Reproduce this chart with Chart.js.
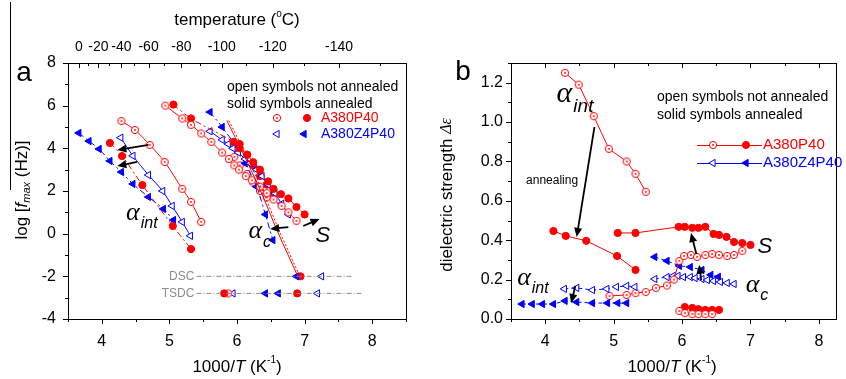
<!DOCTYPE html>
<html>
<head>
<meta charset="utf-8">
<script src="https://cdn.jsdelivr.net/npm/chart.js@4.4.0/dist/chart.umd.min.js"></script>
<style>
  body { margin: 0; background: #fff; }
  #wrap { position: relative; width: 846px; height: 379px; }
  #chartA { position: absolute; left: 0; top: 0; }
  #chartB { position: absolute; left: 420px; top: 0; }
</style>
</head>
<body>
<div id="wrap">
  <canvas id="chartA" width="420" height="379"></canvas>
  <canvas id="chartB" width="426" height="379"></canvas>
</div>
<script>
// --- data (x = 1000/T in K^-1) ---
// alpha_int, A380P40
const redOpenIntX = [4.29, 4.49, 4.71, 4.93, 5.19, 5.32, 5.47];
const redOpenIntLogF = [5.28, 4.86, 4.16, 3.36, 2.10, 1.49, 0.55];
const redOpenIntDe = [1.25, 1.19, 1.03, 0.864, 0.80, 0.737, 0.646];
const redSolidIntX = [4.12, 4.30, 4.60, 5.05, 5.32];
const redSolidIntLogF = [4.25, 3.64, 2.28, 0.36, -0.72];
const redSolidIntDe = [0.447, 0.422, 0.397, 0.32, 0.249];
// alpha_int, A380Z4P40
const blueOpenIntX = [4.28, 4.46, 4.69, 4.90, 5.04, 5.19, 5.31];
const blueOpenIntLogF = [4.5, 3.65, 2.75, 2.0, 1.3, 0.55, -0.1];
const blueOpenIntDe = [0.153, 0.158, 0.147, 0.153, 0.163, 0.168, 0.163];
const blueSolidIntX = [3.66, 3.81, 3.96, 4.12, 4.29, 4.46, 4.69, 4.91, 5.06, 5.19];
const blueSolidIntLogF = [4.72, 4.34, 3.97, 3.41, 2.89, 2.33, 1.72, 1.16, 0.64, null];
const blueSolidIntDe = [0.076, 0.076, 0.076, 0.076, 0.092, 0.086, 0.081, 0.081, 0.081, 0.081];
// S, A380P40
const redOpenSX = [4.94, 5.19, 5.32, 5.47, 5.62, 5.78, 5.88, 5.96, 6.03, 6.13, 6.22, 6.34, 6.44, 6.54, 6.66, 6.76, 6.88];
const redOpenSLogF = [6.0, 5.4, 5.1, 4.7, 4.3, 3.8, 3.5, 3.2, 3.0, 2.7, 2.5, 2.2, 1.9, 1.6, 1.3, 1.0, 0.6];
const redOpenSDe = [0.117, 0.122, 0.132, 0.137, 0.158, 0.17, 0.2, 0.295, 0.32, 0.325, 0.315, 0.325, 0.33, 0.325, 0.32, 0.325, 0.346];
const redSolidSX = [5.06, 5.32, 5.95, 6.04, 6.15, 6.24, 6.34, 6.46, 6.54, 6.65, 6.76, 6.88, 7.0];
const redSolidSLogF = [6.05, 5.4, 4.3, 4.0, 3.7, 3.35, 3.0, 2.45, 2.1, 1.85, 1.65, 1.25, 0.9];
const redSolidSDe = [0.437, 0.437, 0.468, 0.468, 0.463, 0.463, 0.468, 0.432, 0.427, 0.417, 0.391, 0.386, 0.376];
// alpha_c, A380P40
const redOpenCX = [5.96, 6.04, 6.15, 6.24, 6.34, 6.44];
const redOpenCLogF = [3.6, 3.2, 2.8, 2.4, 2.0, 1.7];
const redOpenCDe = [0.041, 0.03, 0.025, 0.025, 0.025, 0.025];
const redSolidCX = [6.04, 6.15, 6.24, 6.34, 6.44, 6.54];
const redSolidCLogF = [4.2, 3.7, 3.2, 2.7, 2.3, 1.9];
const redSolidCDe = [0.061, 0.056, 0.05, 0.046, 0.046, 0.046];
// alpha_c, A380Z4P40
const blueOpenCX = [5.6, 5.78, 5.87, 5.94, 6.02, 6.12, 6.19, 6.29, 6.37, 6.46, 6.56, 6.66, 6.76];
const blueOpenCLogF = [4.8, 4.4, 4.2, 4.0, 3.8, 3.5, 3.3, 3.0, 2.7, 2.3, 1.9, 1.4, 0.9];
const blueOpenCDe = [0.203, 0.213, 0.219, 0.219, 0.213, 0.213, 0.208, 0.203, 0.198, 0.193, 0.188, 0.183, 0.178];
const blueSolidCX = [5.6, 5.78, 5.96, 6.12, 6.29, 6.42, 6.53];
const blueSolidCLogF = [5.7, 5.0, 4.2, 3.3, 2.2, 0.9, -0.3];
const blueSolidCDe = [0.315, 0.295, 0.27, 0.264, 0.249, 0.224, 0.214];
// VFT fit of alpha_c (A380P40) down to the DSC Tg
const redFitX = [5.85, 6.1, 6.35, 6.6, 6.9];
const redFitLogF = [5.3, 3.7, 2.0, 0.1, -2.0];
// DSC and TSDC glass transitions
const dscY = -2.0, tsdcY = -2.8;
const dscRedSolidX = [6.94], dscBlueSolidX = [6.88], dscBlueOpenX = [7.25];
const tsdcRedSolidX = [5.81, 6.89], tsdcRedOpenX = [5.87];
const tsdcBlueOpenX = [5.94, 7.19], tsdcBlueSolidX = [6.42, 6.61];
const dscLineX = [5.4, 7.72], tsdcLineX = [5.4, 7.84];
// axis ticks
const tempTicksC = [0, -10, -20, -30, -40, -50, -60, -70, -80, -90, -100, -110, -120, -130, -140, -150];
const xTicksB = [3.5, 4, 4.5, 5, 5.5, 6, 6.5, 7, 7.5, 8];

const F = '"Liberation Sans", Arial, Helvetica, sans-serif';
const SERIF = '"Liberation Serif", "Times New Roman", serif';
const RED = '#ff0000', BLUE = '#0000ff', GREY = '#8c8c8c';

function ringDot(color) {
  const c = document.createElement('canvas');
  c.width = 10; c.height = 10;
  const g = c.getContext('2d');
  g.fillStyle = '#fff';
  g.beginPath(); g.arc(5, 5, 3.6, 0, 2 * Math.PI); g.fill();
  g.strokeStyle = color; g.lineWidth = 1; g.stroke();
  g.fillStyle = color;
  g.beginPath(); g.arc(5, 5, 0.9, 0, 2 * Math.PI); g.fill();
  return c;
}
const RING = ringDot(RED);

const pts = (xs, ys) => xs.map((x, i) => ({ x, y: Array.isArray(ys) ? ys[i] : ys })).filter(p => p.y != null);

function series(xs, ys, kind, dash, line = true) {
  const red = kind.startsWith('red');
  const open = kind.endsWith('Open');
  const col = red ? RED : BLUE;
  return {
    data: pts(xs, ys),
    showLine: line,
    borderColor: col,
    borderWidth: 1,
    borderDash: dash || [],
    tension: 0.3,
    pointStyle: red ? (open ? RING : 'circle') : 'triangle',
    rotation: red ? 0 : -90,
    pointRadius: red ? 3.6 : 4.2,
    pointBackgroundColor: open ? '#fff' : col,
    pointBorderColor: col,
    pointBorderWidth: 1
  };
}
function plainLine(xs, ys, color, dash) {
  return { data: pts(xs, ys), showLine: true, borderColor: color, borderWidth: 1, borderDash: dash || [], pointRadius: 0, tension: 0.3 };
}

const DASHDOT = [6, 3, 2, 3];

// --- drawing helpers ---
function rich(ctx, x, y, parts, align) {
  let w = 0;
  parts.forEach(p => { ctx.font = p.f; p.w = ctx.measureText(p.t).width; w += p.w; });
  let cx = align === 'center' ? x - w / 2 : align === 'right' ? x - w : x;
  ctx.textAlign = 'left';
  ctx.textBaseline = 'middle';
  parts.forEach(p => {
    ctx.font = p.f;
    ctx.fillStyle = p.c || '#000';
    ctx.fillText(p.t, cx, y + (p.dy || 0));
    cx += p.w;
  });
}
function arrow(ctx, x1, y1, x2, y2) {
  const a = Math.atan2(y2 - y1, x2 - x1), L = 9, W = 4;
  ctx.save();
  ctx.strokeStyle = '#000'; ctx.fillStyle = '#000'; ctx.lineWidth = 1.8;
  ctx.beginPath(); ctx.moveTo(x1, y1);
  ctx.lineTo(x2 - L * 0.8 * Math.cos(a), y2 - L * 0.8 * Math.sin(a)); ctx.stroke();
  ctx.beginPath(); ctx.moveTo(x2, y2);
  ctx.lineTo(x2 - L * Math.cos(a) + W * Math.sin(a), y2 - L * Math.sin(a) - W * Math.cos(a));
  ctx.lineTo(x2 - L * Math.cos(a) - W * Math.sin(a), y2 - L * Math.sin(a) + W * Math.cos(a));
  ctx.closePath(); ctx.fill();
  ctx.restore();
}
function alphaLabel(ctx, x, y, sub, size) {
  ctx.fillStyle = '#000';
  ctx.font = 'italic ' + size + 'px ' + SERIF;
  ctx.textAlign = 'center'; ctx.textBaseline = 'middle';
  ctx.fillText('\u03b1', x, y);
  ctx.font = 'italic ' + Math.round(size * 0.62) + 'px ' + F;
  ctx.textAlign = 'left';
  ctx.fillText(sub, x + size * 0.3, y + size * 0.42);
}
function drawTicks(ctx, scale, area, side, list, inward) {
  ctx.save();
  ctx.strokeStyle = '#000'; ctx.lineWidth = 1;
  ctx.beginPath();
  list.forEach(t => {
    const len = t.major ? 5 : 3;
    const p = Math.round(scale.getPixelForValue(t.v)) + 0.5;
    if (side === 'bottom') { ctx.moveTo(p, area.bottom); ctx.lineTo(p, area.bottom + len); }
    if (side === 'top') { ctx.moveTo(p, area.top); ctx.lineTo(p, area.top + (inward ? len : -len)); }
    if (side === 'left') { ctx.moveTo(area.left, p); ctx.lineTo(area.left - len, p); }
  });
  ctx.stroke();
  ctx.restore();
}
function frame(ctx, a) {
  ctx.save();
  ctx.strokeStyle = '#000'; ctx.lineWidth = 1;
  ctx.strokeRect(Math.round(a.left) + 0.5, Math.round(a.top) + 0.5, Math.round(a.right - a.left), Math.round(a.bottom - a.top));
  ctx.restore();
}
function legendPoint(ctx, style, col, open, x, y) {
  ctx.save();
  ctx.strokeStyle = col; ctx.fillStyle = open ? '#fff' : col; ctx.lineWidth = 1;
  if (style === 'ring') { ctx.drawImage(RING, x - 5, y - 5); }
  else Chart.helpers.drawPoint(ctx, { pointStyle: style, radius: style === 'triangle' ? 4.2 : 3.6, rotation: style === 'triangle' ? -90 : 0, borderWidth: 1 }, x, y);
  ctx.restore();
}
const halfSteps = (a, b) => { const r = []; for (let v = a; v <= b + 1e-9; v += 0.5) r.push({ v, major: Math.abs(v - Math.round(v)) < 1e-9 }); return r; };

// --- panel a ---
const annotA = {
  id: 'annotA',
  afterDraw(chart) {
    const { ctx, chartArea: a, scales } = chart;
    const X = v => scales.x.getPixelForValue(v), Y = v => scales.y.getPixelForValue(v);
    frame(ctx, a);
    drawTicks(ctx, scales.x, a, 'bottom', halfSteps(3.5, 8.5));
    const yt = []; for (let v = -4; v <= 8; v++) yt.push({ v, major: v % 2 === 0 });
    drawTicks(ctx, scales.y, a, 'left', yt);
    drawTicks(ctx, scales.x2, a, 'top', tempTicksC.map(t => ({ v: 1000 / (t + 273.15), major: t % 20 === 0 })), true);

    ctx.save();
    ctx.fillStyle = '#000'; ctx.textAlign = 'center'; ctx.textBaseline = 'middle';
    ctx.font = '28px ' + F; ctx.fillText('a', 24, 73);
    rich(ctx, 237, 20, [{ t: 'temperature (', f: '17px ' + F }, { t: 'o', f: '10px ' + F, dy: -6 }, { t: 'C)', f: '17px ' + F }], 'center');
    rich(ctx, 237, 367, [{ t: '1000/', f: '17px ' + F }, { t: 'T', f: 'italic 17px ' + F }, { t: ' (K', f: '17px ' + F }, { t: '-1', f: '10px ' + F, dy: -7 }, { t: ')', f: '17px ' + F }], 'center');
    ctx.save();
    ctx.translate(22, 190); ctx.rotate(-Math.PI / 2);
    rich(ctx, 0, 0, [{ t: 'log [', f: '17px ' + F }, { t: 'f', f: 'italic 17px ' + F }, { t: 'max', f: 'italic 11px ' + F, dy: 5 }, { t: ' (Hz)]', f: '17px ' + F }], 'center');
    ctx.restore();
    ctx.strokeStyle = '#000'; ctx.lineWidth = 1;
    ctx.beginPath(); ctx.moveTo(10.5, 2); ctx.lineTo(10.5, 190); ctx.stroke();

    ctx.fillStyle = '#000'; ctx.font = '14px ' + F; ctx.textAlign = 'left';
    ctx.fillText('open symbols not annealed', 227, 87);
    ctx.fillText('solid symbols annealed', 227, 104);
    legendPoint(ctx, 'ring', RED, true, 277, 118);
    legendPoint(ctx, 'circle', RED, false, 307, 118);
    legendPoint(ctx, 'triangle', BLUE, true, 277, 134);
    legendPoint(ctx, 'triangle', BLUE, false, 304, 134);
    ctx.font = '14px ' + F; ctx.textAlign = 'left'; ctx.textBaseline = 'middle';
    ctx.fillStyle = RED; ctx.fillText('A380P40', 321, 118);
    ctx.fillStyle = BLUE; ctx.fillText('A380Z4P40', 321, 134);

    ctx.fillStyle = GREY; ctx.font = '12px ' + F; ctx.textAlign = 'right';
    ctx.fillText('DSC', X(5.4) - 2, Y(dscY));
    ctx.fillText('TSDC', X(5.4) - 2, Y(tsdcY));

    alphaLabel(ctx, X(4.46), Y(0.97), 'int', 26);
    alphaLabel(ctx, X(6.27), Y(0.1), 'c', 26);
    ctx.fillStyle = '#000'; ctx.font = 'italic 22px ' + F; ctx.textAlign = 'center';
    ctx.fillText('S', X(7.27), Y(-0.1));

    arrow(ctx, X(4.69), Y(4.16), X(4.23), Y(3.92));
    arrow(ctx, X(4.52), Y(3.36), X(4.23), Y(3.17));
    arrow(ctx, X(6.76), Y(0.31), X(6.49), Y(0.22));
    arrow(ctx, X(6.98), Y(0.36), X(7.22), Y(0.69));
    ctx.restore();
  }
};

new Chart(document.getElementById('chartA'), {
  type: 'scatter',
  data: {
    datasets: [
      plainLine(dscLineX, dscY, GREY, [5, 2, 1, 2]),
      plainLine(tsdcLineX, tsdcY, GREY, [5, 2, 1, 2]),
      plainLine(redFitX, redFitLogF, RED),
      plainLine(redFitX.map(v => v + 0.03), redFitLogF, RED, [2, 2]),
      series(redOpenIntX, redOpenIntLogF, 'redOpen'),
      series(redSolidIntX, redSolidIntLogF, 'redSolid', DASHDOT),
      series(blueOpenIntX, blueOpenIntLogF, 'blueOpen'),
      series(blueSolidIntX, blueSolidIntLogF, 'blueSolid', DASHDOT),
      series(redOpenSX, redOpenSLogF, 'redOpen'),
      series(redSolidSX, redSolidSLogF, 'redSolid', DASHDOT),
      series(blueOpenCX, blueOpenCLogF, 'blueOpen'),
      series(blueSolidCX, blueSolidCLogF, 'blueSolid', DASHDOT),
      series(redOpenCX, redOpenCLogF, 'redOpen', null, false),
      series(redSolidCX, redSolidCLogF, 'redSolid', null, false),
      series(dscBlueSolidX, dscY, 'blueSolid', null, false),
      series(dscRedSolidX, dscY, 'redSolid', null, false),
      series(dscBlueOpenX, dscY, 'blueOpen', null, false),
      series(tsdcRedSolidX, tsdcY, 'redSolid', null, false),
      series(tsdcRedOpenX, tsdcY, 'redOpen', null, false),
      series(tsdcBlueOpenX, tsdcY, 'blueOpen', null, false),
      series(tsdcBlueSolidX, tsdcY, 'blueSolid', null, false)
    ]
  },
  options: {
    responsive: false,
    animation: false,
    layout: { padding: { left: 0, right: 14, top: 0, bottom: 0 } },
    plugins: { legend: { display: false }, tooltip: { enabled: false } },
    scales: {
      x: {
        type: 'linear', position: 'bottom', min: 3.5, max: 8.5,
        grid: { display: false, drawTicks: false }, border: { display: false },
        ticks: { stepSize: 0.5, autoSkip: false, padding: 13, color: '#000', font: { family: F, size: 16 }, maxRotation: 0,
          callback: v => Number.isInteger(v) ? String(v) : '' },
        afterFit: s => { s.height = 60; }
      },
      x2: {
        type: 'linear', position: 'top', min: 3.5, max: 8.5,
        grid: { display: false, drawTicks: false }, border: { display: false },
        afterBuildTicks: s => { s.ticks = tempTicksC.map(t => ({ value: 1000 / (t + 273.15) })); },
        ticks: { autoSkip: false, maxRotation: 0, padding: 7, color: '#000', font: { family: F, size: 14 },
          callback: (v, i) => tempTicksC[i] % 20 === 0 ? String(tempTicksC[i]) : '' },
        afterFit: s => { s.height = 63; }
      },
      y: {
        type: 'linear', min: -4, max: 8,
        grid: { display: false, drawTicks: false }, border: { display: false },
        ticks: { stepSize: 1, autoSkip: false, padding: 12, color: '#000', font: { family: F, size: 16 },
          callback: v => v % 2 === 0 ? String(v) : '' },
        afterFit: s => { s.width = 68; }
      }
    }
  },
  plugins: [annotA]
});

// --- panel b ---
const annotB = {
  id: 'annotB',
  afterDraw(chart) {
    const { ctx, chartArea: a, scales } = chart;
    const X = v => scales.x.getPixelForValue(v), Y = v => scales.y.getPixelForValue(v);
    frame(ctx, a);
    drawTicks(ctx, scales.x, a, 'bottom', halfSteps(3.5, 8.0));
    drawTicks(ctx, scales.x, a, 'top', halfSteps(3.5, 8.0), true);
    const yt = []; for (let k = 0; k <= 13; k++) yt.push({ v: k / 10, major: k % 2 === 0 });
    drawTicks(ctx, scales.y, a, 'left', yt);

    ctx.save();
    ctx.fillStyle = '#000'; ctx.textAlign = 'center'; ctx.textBaseline = 'middle';
    ctx.font = '28px ' + F; ctx.fillText('b', 43, 72);
    rich(ctx, 252, 367, [{ t: '1000/', f: '17px ' + F }, { t: 'T', f: 'italic 17px ' + F }, { t: ' (K', f: '17px ' + F }, { t: '-1', f: '10px ' + F, dy: -7 }, { t: ')', f: '17px ' + F }], 'center');
    ctx.save();
    ctx.translate(27, 195); ctx.rotate(-Math.PI / 2);
    rich(ctx, 0, 0, [{ t: 'dielectric strength ', f: '17px ' + F }, { t: '\u0394\u03b5', f: 'italic 16px ' + SERIF }], 'center');
    ctx.restore();

    ctx.fillStyle = '#000'; ctx.font = '14px ' + F; ctx.textAlign = 'left';
    ctx.fillText('open symbols not annealed', 237, 97);
    ctx.fillText('solid symbols annealed', 237, 115);
    ctx.lineWidth = 1;
    ctx.strokeStyle = RED;
    ctx.beginPath(); ctx.moveTo(277, 145.5); ctx.lineTo(342, 145.5); ctx.stroke();
    ctx.strokeStyle = BLUE;
    ctx.beginPath(); ctx.moveTo(277, 163.5); ctx.lineTo(342, 163.5); ctx.stroke();
    legendPoint(ctx, 'ring', RED, true, 293, 145);
    legendPoint(ctx, 'circle', RED, false, 326, 145);
    legendPoint(ctx, 'triangle', BLUE, true, 293, 163);
    legendPoint(ctx, 'triangle', BLUE, false, 326, 163);
    ctx.font = '15px ' + F; ctx.textAlign = 'left'; ctx.textBaseline = 'middle';
    ctx.fillStyle = RED; ctx.fillText('A380P40', 343, 145);
    ctx.fillStyle = BLUE; ctx.fillText('A380Z4P40', 343, 163);

    ctx.fillStyle = '#000'; ctx.font = '12px ' + F; ctx.textAlign = 'center';
    ctx.fillText('annealing', X(4.1), Y(0.70));
    alphaLabel(ctx, X(4.28), Y(1.14), 'int', 30);
    alphaLabel(ctx, X(3.69), Y(0.208), 'int', 26);
    alphaLabel(ctx, X(7.03), Y(0.173), 'c', 26);
    ctx.fillStyle = '#000'; ctx.font = 'italic 22px ' + F; ctx.textAlign = 'center';
    ctx.fillText('S', X(7.21), Y(0.366));

    arrow(ctx, X(4.72), Y(0.976), X(4.46), Y(0.417));
    arrow(ctx, X(4.44), Y(0.168), X(4.38), Y(0.081));
    arrow(ctx, X(6.28), Y(0.198), X(6.25), Y(0.275));
    arrow(ctx, X(6.21), Y(0.33), X(6.13), Y(0.437));
    ctx.restore();
  }
};

const DASH = [4, 3];
new Chart(document.getElementById('chartB'), {
  type: 'scatter',
  data: {
    datasets: [
      series(redOpenIntX, redOpenIntDe, 'redOpen'),
      series(redSolidIntX, redSolidIntDe, 'redSolid'),
      series(blueOpenIntX, blueOpenIntDe, 'blueOpen', DASH),
      series(blueSolidIntX, blueSolidIntDe, 'blueSolid', DASH),
      series(redOpenSX, redOpenSDe, 'redOpen'),
      series(redSolidSX, redSolidSDe, 'redSolid'),
      series(blueOpenCX, blueOpenCDe, 'blueOpen', DASH),
      series(blueSolidCX, blueSolidCDe, 'blueSolid', DASH),
      series(redOpenCX, redOpenCDe, 'redOpen'),
      series(redSolidCX, redSolidCDe, 'redSolid')
    ].map(d => Object.assign(d, { tension: 0 }))
  },
  options: {
    responsive: false,
    animation: false,
    layout: { padding: { left: 0, right: 10, top: 63, bottom: 0 } },
    plugins: { legend: { display: false }, tooltip: { enabled: false } },
    scales: {
      x: {
        type: 'linear', min: 3.5, max: 8.25,
        grid: { display: false, drawTicks: false }, border: { display: false },
        afterBuildTicks: s => { s.ticks = xTicksB.map(v => ({ value: v })); },
        ticks: { autoSkip: false, padding: 13, color: '#000', font: { family: F, size: 16 }, maxRotation: 0,
          callback: (v, i) => Number.isInteger(xTicksB[i]) ? String(xTicksB[i]) : '' },
        afterFit: s => { s.height = 60; }
      },
      y: {
        type: 'linear', min: 0, max: 1.3,
        grid: { display: false, drawTicks: false }, border: { display: false },
        ticks: { stepSize: 0.1, autoSkip: false, padding: 8, color: '#000', font: { family: F, size: 16 },
          callback: v => Math.round(v * 10) % 2 === 0 ? v.toFixed(1) : '' },
        afterFit: s => { s.width = 91; }
      }
    }
  },
  plugins: [annotB]
});
</script>
</body>
</html>
